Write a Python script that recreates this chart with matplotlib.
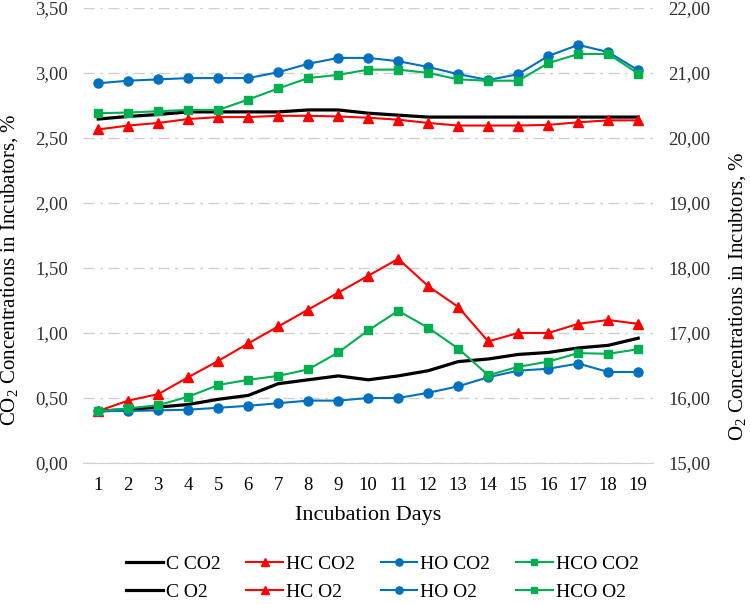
import matplotlib.pyplot as plt
from matplotlib.ticker import FuncFormatter

days = list(range(1, 20))

# CO2 (left axis), %
c_co2 = [0.40, 0.41, 0.43, 0.45, 0.49, 0.52, 0.61, 0.64, 0.67, 0.64, 0.67, 0.71, 0.78, 0.80, 0.835, 0.85, 0.885, 0.905, 0.96]
hc_co2 = [0.40, 0.48, 0.53, 0.66, 0.785, 0.92, 1.05, 1.18, 1.31, 1.44, 1.57, 1.36, 1.20, 0.935, 1.00, 1.00, 1.07, 1.10, 1.07]
ho_co2 = [0.40, 0.40, 0.405, 0.41, 0.425, 0.44, 0.46, 0.48, 0.48, 0.50, 0.50, 0.54, 0.59, 0.66, 0.71, 0.725, 0.765, 0.70, 0.70]
hco_co2 = [0.40, 0.42, 0.445, 0.51, 0.60, 0.64, 0.67, 0.72, 0.85, 1.02, 1.17, 1.04, 0.88, 0.675, 0.74, 0.78, 0.845, 0.84, 0.875]

# O2 (right axis), %
c_o2 = [20.29, 20.33, 20.36, 20.40, 20.40, 20.40, 20.40, 20.43, 20.43, 20.38, 20.35, 20.32, 20.32, 20.32, 20.32, 20.32, 20.32, 20.32, 20.32]
hc_o2 = [20.13, 20.19, 20.23, 20.29, 20.32, 20.32, 20.34, 20.34, 20.33, 20.31, 20.28, 20.23, 20.19, 20.19, 20.19, 20.20, 20.24, 20.27, 20.27]
ho_o2 = [20.84, 20.88, 20.90, 20.92, 20.92, 20.92, 21.01, 21.14, 21.23, 21.23, 21.18, 21.09, 20.98, 20.89, 20.98, 21.26, 21.43, 21.32, 21.04]
hco_o2 = [20.38, 20.39, 20.41, 20.43, 20.43, 20.59, 20.76, 20.92, 20.97, 21.05, 21.05, 21.00, 20.90, 20.88, 20.88, 21.15, 21.29, 21.29, 20.99]

plt.rcParams['font.family'] = ['Liberation Serif', 'DejaVu Serif']
plt.rcParams['mathtext.fontset'] = 'custom'
plt.rcParams['mathtext.rm'] = 'Liberation Serif'

fig = plt.figure(figsize=(7.5, 6.04), dpi=100)
ax = fig.add_axes([0.111, 0.2334, 0.76, 0.7536])
ax2 = ax.twinx()

BLACK, RED, BLUE, GREEN = '#000000', '#ff0000', '#0070c0', '#00b050'
ms = 6.5

ax.plot(days, c_co2, color=BLACK, lw=2.3, label='C CO2')
ax.plot(days, hc_co2, color=RED, lw=1.5, marker='^', ms=ms, label='HC CO2')
ax.plot(days, ho_co2, color=BLUE, lw=1.5, marker='o', ms=ms, label='HO CO2')
ax.plot(days, hco_co2, color=GREEN, lw=1.5, marker='s', ms=ms - 0.5, label='HCO CO2')

ax2.plot(days, c_o2, color=BLACK, lw=2.3, label='C O2')
ax2.plot(days, hc_o2, color=RED, lw=1.5, marker='^', ms=ms, label='HC O2')
ax2.plot(days, ho_o2, color=BLUE, lw=1.5, marker='o', ms=ms, label='HO O2')
ax2.plot(days, hco_o2, color=GREEN, lw=1.5, marker='s', ms=ms - 0.5, label='HCO O2')

ax.set_xlim(0.5, 19.5)
ax.set_ylim(0, 3.5)
ax2.set_ylim(15, 22)
ax.set_xticks(days)
ax.set_yticks([i * 0.5 for i in range(8)])
ax2.set_yticks(range(15, 23))
comma = FuncFormatter(lambda v, p: f'{v:.2f}'.replace('.', ','))
ax.yaxis.set_major_formatter(comma)
ax2.yaxis.set_major_formatter(comma)

ax.grid(axis='y', color='#d0d0d0', lw=1, linestyle=(0, (8, 4, 2, 4)))
ax.set_axisbelow(True)
for a in (ax, ax2):
    for s in a.spines.values():
        s.set_visible(False)
    a.tick_params(length=0, labelsize=13.5, colors='#303030')
ax.spines['bottom'].set_visible(True)
ax.spines['bottom'].set_color('#d0d0d0')
ax.tick_params(axis='x', pad=10, labelcolor='black')
ax.tick_params(axis='y', pad=11)
ax2.tick_params(axis='y', pad=11)

ax.set_xlabel('Incubation Days', fontsize=16, labelpad=9)
ax.set_ylabel('CO$_2$ Concentrations in Incubators, %', fontsize=15)
ax2.set_ylabel('O$_2$ Concentrations in Incubtors, %', fontsize=15)
ax.yaxis.set_label_coords(-0.11, 0.424)
ax2.yaxis.set_label_coords(1.13, 0.367)

h1, l1 = ax.get_legend_handles_labels()
h2, l2 = ax2.get_legend_handles_labels()
handles, labels = [], []
for a, b, la, lb in zip(h1, h2, l1, l2):
    handles += [a, b]
    labels += [la, lb]
fig.legend(handles, labels, ncol=4, loc='center', bbox_to_anchor=(0.51, 0.043),
           frameon=False, fontsize=14, handlelength=1.9, handletextpad=0.15,
           columnspacing=1.3, labelspacing=0.55, markerscale=0.8, borderpad=0.2)

fig.savefig('out.png', dpi=100)
